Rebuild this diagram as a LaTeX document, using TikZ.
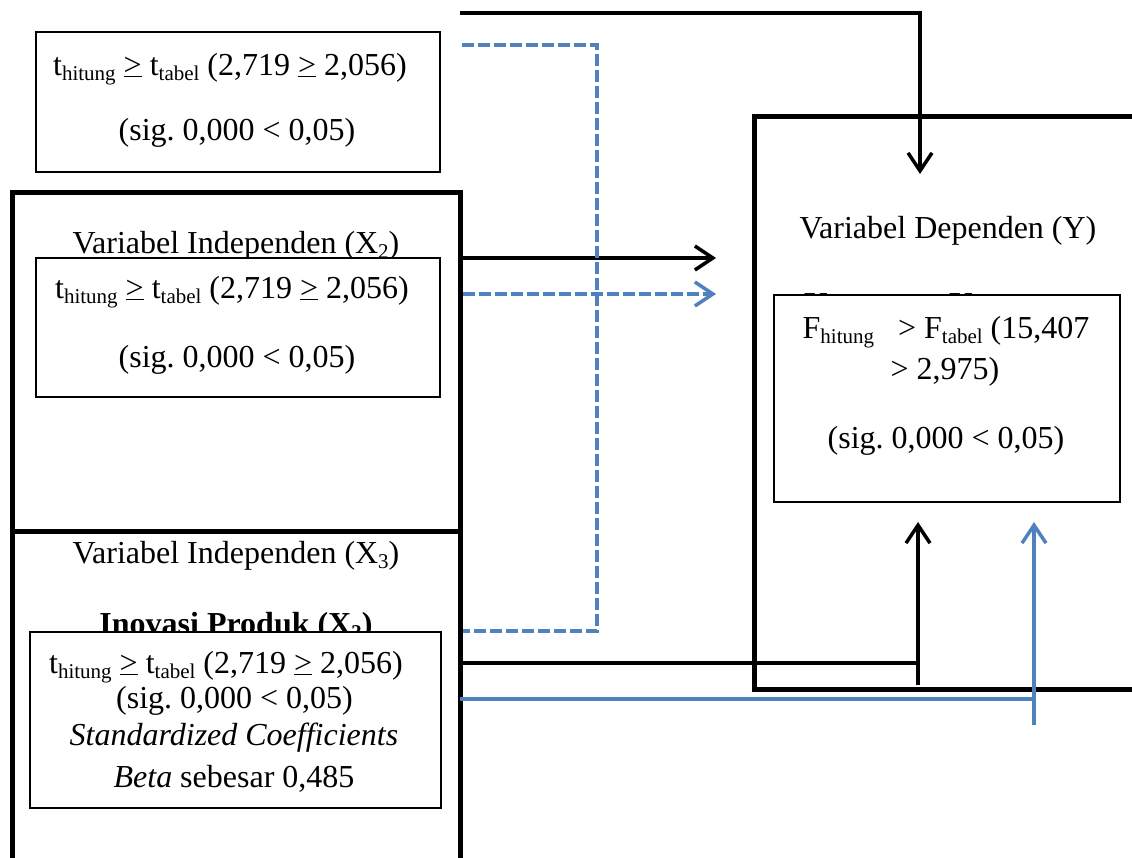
\documentclass[tikz,border=0pt]{standalone}
\usepackage{fontspec}
\setmainfont{Liberation Serif}
\usetikzlibrary{arrows.meta}
\definecolor{lineblue}{RGB}{79,129,189}
\newcommand{\subtx}[1]{\raisebox{-5pt}{\fontsize{21}{21}\selectfont #1}}
\newcommand{\ugt}{\underline{>}}
\frenchspacing

\begin{document}
\begin{tikzpicture}[x=1pt, y=-1pt,
	font=\fontsize{32}{38}\selectfont,
	txt/.style={anchor=base, inner sep=0pt},
	bigbox/.style={draw, line width=5pt, inner sep=0pt},
	inbox/.style={draw, fill=white, line width=1.8pt, inner sep=0pt},
	line/.style={line width=3.5pt},
	conn/.style={line, -{Straight Barb[length=18pt,width=24pt]}},
	bline/.style={line width=3.5pt, lineblue},
	bconn/.style={bline, -{Straight Barb[length=18pt,width=24pt]}},
	dline/.style={bline, dash pattern=on 12pt off 4pt},
	dconn/.style={dline, -{Straight Barb[length=18pt,width=24pt]}}]
	
	\useasboundingbox (0,0) rectangle (1132,857);
	\clip (0,0) rectangle (1132,857);
	
	% outer boxes
	\node[bigbox, minimum width=448pt, minimum height=339pt] (x2box) at (236,361.5) {};
	\node[bigbox, minimum width=448pt, minimum height=349pt] (x3box) at (236,705.5) {};
	\node[bigbox, minimum width=396pt, minimum height=573pt] (ybox) at (952,402.5) {};
	
	% titles
	\node[txt] (x2lbl) at (236,253) {Variabel Independen (X\subtx{2})};
	\node[txt] (x3lbl) at (236,563) {Variabel Independen (X\subtx{3})};
	\node[txt, font=\fontsize{32}{38}\selectfont\bfseries] (x3name) at (236,634) {Inovasi Produk (X\subtx{3})};
	\node[txt] (ylbl) at (948,238) {Variabel Dependen (Y)};
	\node[txt, anchor=base west, font=\fontsize{32}{38}\selectfont\bfseries] (yname) at (804,314) {Kepuasan Konsumen};
	
	% inner boxes
	\node[inbox, minimum width=404pt, minimum height=140pt] (t1box) at (238,102) {};
	\node[inbox, minimum width=404pt, minimum height=139pt] (x2in) at (238,327.5) {};
	\node[inbox, minimum width=411pt, minimum height=176pt] (x3in) at (235.5,720) {};
	\node[inbox, minimum width=346pt, minimum height=207pt] (fbox) at (947,398.5) {};
	
	\node[txt] (t1a) at (230,75) {t\subtx{hitung} \ugt{} t\subtx{tabel} (2,719 \ugt{} 2,056)};
	\node[txt] (t1b) at (237,140) {(sig. 0,000 < 0,05)};
	
	\node[txt] (x2a) at (232,298) {t\subtx{hitung} \ugt{} t\subtx{tabel} (2,719 \ugt{} 2,056)};
	\node[txt] (x2b) at (237,367) {(sig. 0,000 < 0,05)};
	
	\node[txt] (x3a) at (226,673) {t\subtx{hitung} \ugt{} t\subtx{tabel} (2,719 \ugt{} 2,056)};
	\node[txt] (x3b) at (234.5,708) {(sig. 0,000 < 0,05)};
	\node[txt] (x3c) at (234,745) {\itshape Standardized Coefficients};
	\node[txt] (x3d) at (234,787) {\textit{Beta} sebesar 0,485};
	
	\node[txt] (fa) at (946,338) {F\subtx{hitung} \ \ > F\subtx{tabel} (15,407};
	\node[txt] (fb) at (945,379) {> 2,975)};
	\node[txt] (fc) at (946,448) {(sig. 0,000 < 0,05)};
	
	% connectors
	\coordinate (x1out) at (460,13);
	\coordinate (ytip) at (920,174);
	\coordinate (x1dout) at (462,45);
	\coordinate (dturn) at (597,45);
	\coordinate (x2tip) at (716,258);
	\coordinate (x2dtip) at (716,294);
	\coordinate (x3out) at (460,663);
	\coordinate (x3bout) at (460,699);
	\coordinate (x3tip) at (918,522);
	\coordinate (x3btip) at (1034,522);
	
	\draw[conn] (x1out) -| (ytip);
	\draw[conn] (x2box.east |- x2tip) -- (x2tip);
	\draw[line] (x3out) -- (x3tip |- x3out);
	\draw[conn] (x3tip |- 0,685) -- (x3tip);
	
	\draw[dline] (x1dout) -- (dturn) |- (x3box.east |- x3in.north);
	\draw[dconn] (x2box.east |- x2dtip) -- (x2dtip);
	\draw[bline] (x3bout) -- (x3btip |- x3bout);
	\draw[bconn] (x3btip |- 0,725) -- (x3btip);
\end{tikzpicture}
\end{document}
